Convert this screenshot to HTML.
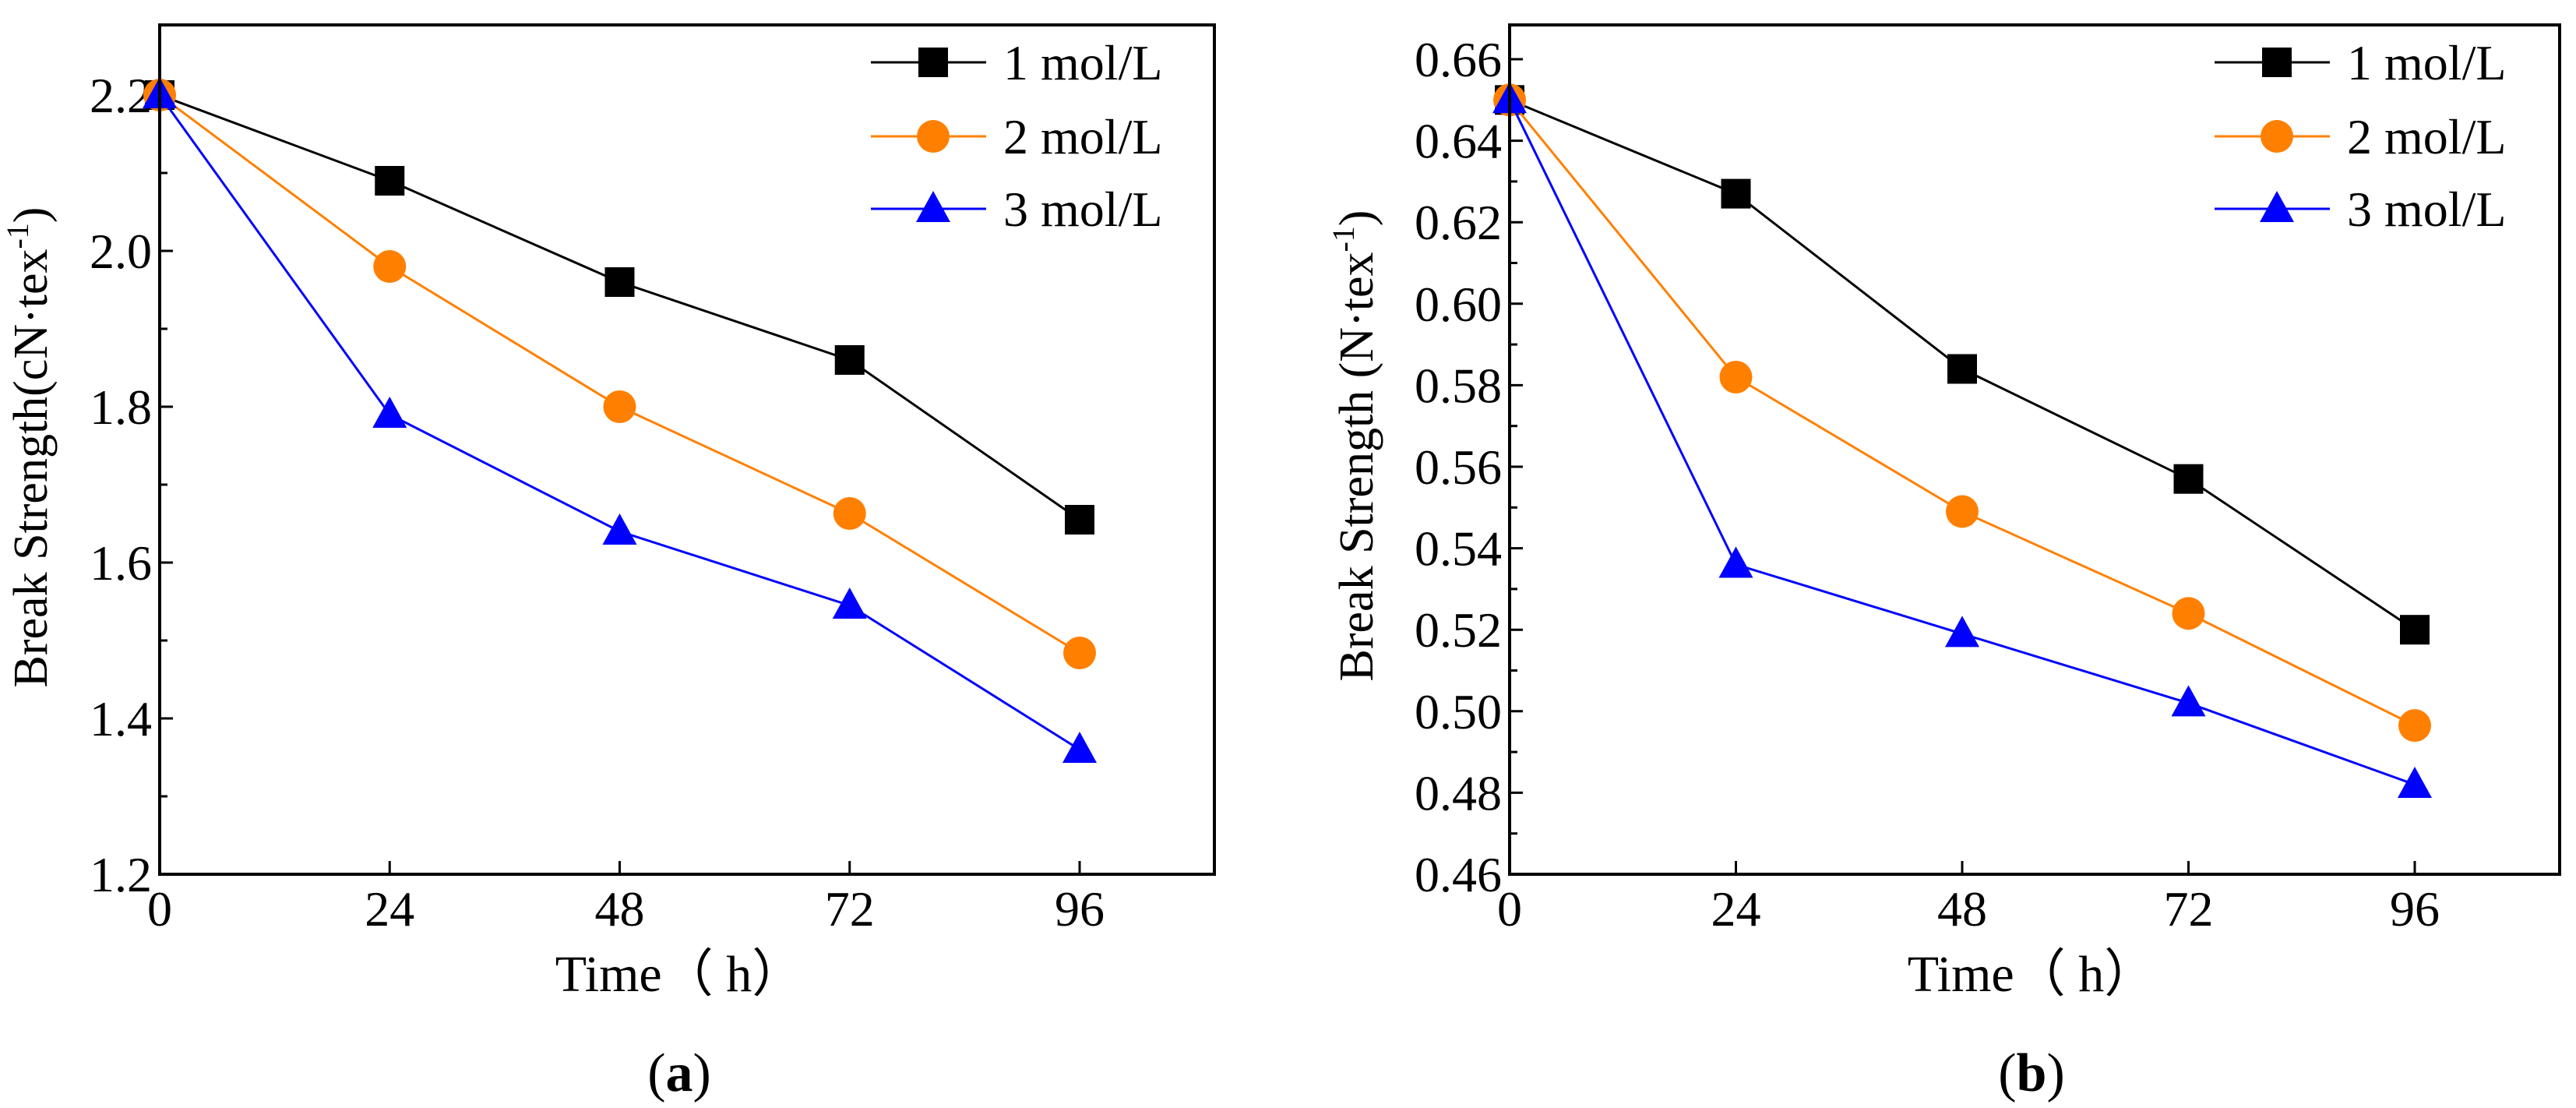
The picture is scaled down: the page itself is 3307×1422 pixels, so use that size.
<!DOCTYPE html>
<html><head><meta charset="utf-8"><style>
html,body{margin:0;padding:0;background:#fff;}
svg{display:block;font-family:"Liberation Serif",serif;}
</style></head><body>
<svg id="svg" width="3307" height="1422" viewBox="0 0 3307 1422" xmlns="http://www.w3.org/2000/svg"></svg>
<script>
const categories = [0, 24, 48, 72, 96];
const xTickLabels = ["0","24","48","72","96"];
const seriesNames = ["1 mol/L","2 mol/L","3 mol/L"];
const a1 = [2.20, 2.09, 1.96, 1.86, 1.655];
const a2 = [2.20, 1.98, 1.80, 1.663, 1.484];
const a3 = [2.20, 1.79, 1.64, 1.545, 1.36];
const aTicks = [1.2, 1.4, 1.6, 1.8, 2.0, 2.2];
const aTickLabels = ["1.2","1.4","1.6","1.8","2.0","2.2"];
const b1 = [0.650, 0.627, 0.584, 0.557, 0.520];
const b2 = [0.650, 0.582, 0.549, 0.524, 0.4965];
const b3 = [0.650, 0.536, 0.519, 0.502, 0.482];
const bTicks = [0.46,0.48,0.50,0.52,0.54,0.56,0.58,0.60,0.62,0.64,0.66];
const bTickLabels = ["0.46","0.48","0.50","0.52","0.54","0.56","0.58","0.60","0.62","0.64","0.66"];

const NS="http://www.w3.org/2000/svg";
const svg=document.getElementById('svg');
function mk(tag,attrs,parent){const e=document.createElementNS(NS,tag);for(const k in attrs)e.setAttribute(k,attrs[k]);(parent||svg).appendChild(e);return e;}
const colors=["#000000","#ff8000","#0000ff"];
const shapes=["square","circle","triangle"];

function marker(g,shape,x,y,c){
  let m;
  if(shape==="square") m=mk('rect',{x:x-19,y:y-19,width:38,height:38,fill:c},g);
  else if(shape==="circle") m=mk('circle',{cx:x,cy:y,r:21,fill:c},g);
  else m=mk('polygon',{points:`${x},${y-23} ${x+22},${y+17} ${x-22},${y+17}`,fill:c},g);
  
  
}

function chart(cfg){
  const g=mk('g',{});
  
  
  const X=v=>cfg.x0+(v-0)/(96-0)*(cfg.x96-cfg.x0);
  const Y=v=>cfg.yb+(v-cfg.ymin)/(cfg.ymax-cfg.ymin)*(cfg.yt-cfg.yb);
  const tg=mk('g',{},g);
  
  
  cfg.yTicks.forEach((t,i)=>{
    const y=Y(t);
    mk('line',{x1:cfg.left,x2:cfg.left+17,y1:y,y2:y,stroke:'#000','stroke-width':3},tg);
    const tx=mk('text',{x:cfg.left-10,y:y+22,'font-size':64,'text-anchor':'end'},tg);
    tx.textContent=cfg.yLabels[i];
    
    
    if(i<cfg.yTicks.length-1){
      const ym=Y((t+cfg.yTicks[i+1])/2);
      mk('line',{x1:cfg.left,x2:cfg.left+10,y1:ym,y2:ym,stroke:'#000','stroke-width':3},tg);
    }
  });
  const xg=mk('g',{},g);
  
  
  categories.forEach((c,i)=>{
    const x=X(c);
    mk('line',{x1:x,x2:x,y1:cfg.yb,y2:cfg.yb-17,stroke:'#000','stroke-width':3},xg);
    const tx=mk('text',{x:x,y:cfg.yb+66,'font-size':64,'text-anchor':'middle'},xg);
    tx.textContent=xTickLabels[i];
    
    
  });
  cfg.series.forEach((s,si)=>{
    const sg=mk('g',{},g);
    
    
    const pts=s.map((v,i)=>X(categories[i])+','+Y(v)).join(' ');
    mk('polyline',{points:pts,fill:'none',stroke:colors[si],'stroke-width':3},sg);
    s.forEach((v,i)=>marker(sg,shapes[si],X(categories[i]),Y(v),colors[si]));
  });
  const fr=mk('rect',{x:cfg.left,y:cfg.top,width:cfg.right-cfg.left,height:cfg.yb-cfg.top,fill:'none',stroke:'#000','stroke-width':4},g);
  
  
  const lg=mk('g',{},g);
  
  
  seriesNames.forEach((n,i)=>{
    const y=cfg.legY[i];
    const e=mk('g',{},lg);
    
    
    mk('line',{x1:cfg.legX,x2:cfg.legX+148,y1:y,y2:y,stroke:colors[i],'stroke-width':3},e);
    marker(e,shapes[i],cfg.legX+80,y,colors[i]);
    const t=mk('text',{x:cfg.legX+170,y:y+22,'font-size':64},e);
    t.textContent=n;
  });
  const xt=mk('text',{x:cfg.xTitleX,y:1272,'font-size':66,'text-anchor':'middle'},g);
  xt.textContent='Time（ h）';
  
  
  const yt=mk('text',{x:0,y:0,'font-size':62,'text-anchor':'middle',transform:`translate(${cfg.yTitleX},${cfg.yTitleY}) rotate(-90)`},g);
  yt.innerHTML=cfg.yTitle;
  
  
  const cap=mk('text',{x:cfg.xTitleX,y:1400,'font-size':70,'text-anchor':'middle'},g);
  cap.innerHTML=cfg.caption;
  
  
}

chart({name:'chart-a',left:205,right:1559,top:32,yb:1122,x0:205,x96:1386,ymin:1.2,ymax:2.2,yt:122,
  yTicks:aTicks,yLabels:aTickLabels,series:[a1,a2,a3],legX:1118,legY:[80,175,268],
  xTitleX:872,yTitleX:60,yTitleY:574,
  yTitle:'Break Strength(cN·tex<tspan dy="-24" font-size="40">-1</tspan><tspan dy="24">)</tspan>',
  caption:'(<tspan font-weight="bold">a</tspan>)'});
chart({name:'chart-b',left:1938,right:3286,top:32,yb:1122,x0:1938,x96:3100,ymin:0.46,ymax:0.66,yt:76,
  yTicks:bTicks,yLabels:bTickLabels,series:[b1,b2,b3],legX:2843,legY:[80,175,268],
  xTitleX:2608,yTitleX:1762,yTitleY:572,
  yTitle:'Break Strength (N·tex<tspan dy="-24" font-size="40">-1</tspan><tspan dy="24">)</tspan>',
  caption:'(<tspan font-weight="bold">b</tspan>)'});
</script>
</body></html>
